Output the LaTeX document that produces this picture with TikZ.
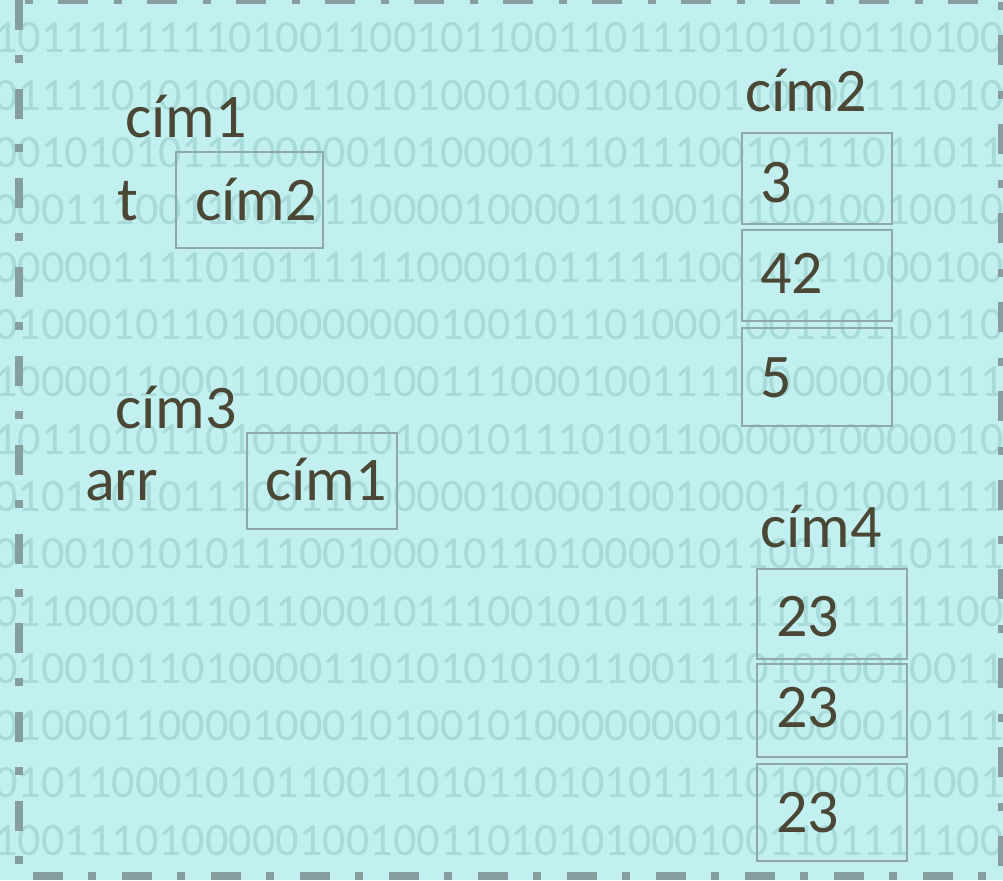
\documentclass[tikz,border=0pt]{standalone}
\usepackage{fontspec}
\setmainfont{Carlito}
\definecolor{bg}{RGB}{194,240,240}
\definecolor{wm}{RGB}{168,218,218}
\definecolor{ink}{RGB}{74,71,52}
\definecolor{frm}{RGB}{135,158,158}
\definecolor{boxc}{RGB}{143,168,168}
\begin{document}
\begin{tikzpicture}[x=1pt,y=-1pt,
  lbl/.style={text=ink, font=\fontsize{62}{62}\selectfont, inner sep=0pt, anchor=base west},
  wmrow/.style={text=wm, font=\fontsize{46.3}{46}\selectfont, inner sep=0pt, anchor=base west},
  cell/.style={draw=boxc, line width=2pt, inner sep=0pt, anchor=north west},
  framestyle/.style={draw=frm, line width=8.5pt, dash pattern=on 30pt off 25pt on 8pt off 26pt}]
\fill[bg] (0,0) rectangle (1003,880);
\useasboundingbox (0,0) rectangle (1003,880);
\begin{scope}
\clip (0,0) rectangle (1003,880);
\foreach \s [count=\i from 0] in {
1011111111010011001011001101110101010110100,
0111101010000110101000100100100110100111010,
0010101011100000101000011101110010111011011,
0001110011001011000010000111001010010010010,
0000011110101111110000101111110010111000100,
0100010110100000000100101101000100110110110,
1000011000110000100111000100111100000000111,
1011010110101011010010111010110000010000010,
0101101011100110000001000010010001101001111,
0100101010111001000101101000010110011110111,
0110000111011000101110010101111111101111100,
0100101101000011010101010110011101010010011,
0100011000010001010010100000000100000010111,
0101100010101100110101101010111101000101001,
1001110100000100100110101010001001101111100}
  \node[wmrow] (w\i) at (-6,{53+57.3*\i}) {\s};
\draw[framestyle] (19,0) rectangle (1002,876);
\end{scope}

% left structures
\node[cell, minimum width=147pt, minimum height=96pt] (b1) at (175,151) {};
\node[cell, minimum width=150pt, minimum height=96pt] (b2) at (246,432) {};
\node[lbl] (l1) at (125,137) {cím1};
\node[lbl] (t) at (117,220) {t};
\node[lbl] (v1) at (195,220) {cím2};
\node[lbl] (l3) at (115,428) {cím3};
\node[lbl] (arr) at (85,500) {arr};
\node[lbl] (v2) at (265,500) {cím1};

% right column cím2
\node[cell, minimum width=150pt, minimum height=91pt] (r1) at (741,132) {};
\node[cell, minimum width=150pt, minimum height=91pt] (r2) at (741,229) {};
\node[cell, minimum width=150pt, minimum height=98pt] (r3) at (741,327) {};
\node[lbl] (l2) at (745,112) {cím2};
\node[lbl] (n3) at (760,202) {3};
\node[lbl] (n42) at (760,293) {42};
\node[lbl] (n5) at (760,397) {5};

% right column cím4
\node[cell, minimum width=150pt, minimum height=90pt] (s1) at (756,568) {};
\node[cell, minimum width=150pt, minimum height=93pt] (s2) at (756,663) {};
\node[cell, minimum width=150pt, minimum height=97pt] (s3) at (756,763) {};
\node[lbl] (l4) at (760,547) {cím4};
\node[lbl] (m1) at (776,636) {23};
\node[lbl] (m2) at (776,727) {23};
\node[lbl] (m3) at (776,832) {23};
\end{tikzpicture}
\end{document}
